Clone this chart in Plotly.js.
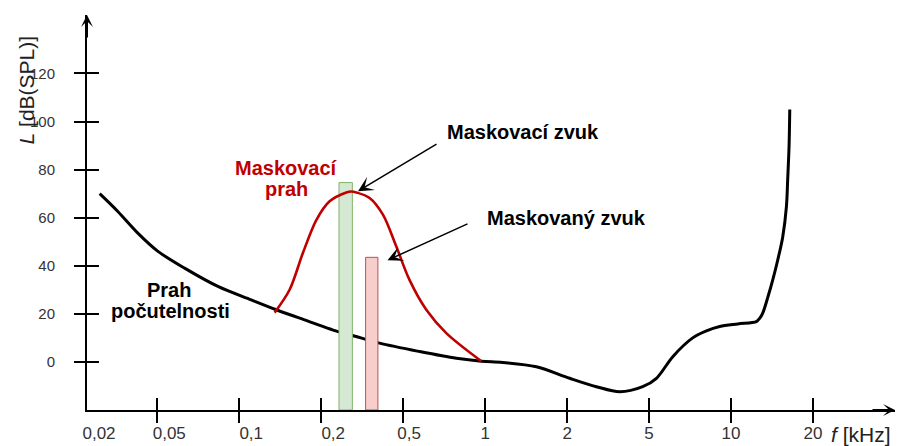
<!DOCTYPE html>
<html>
<head>
<meta charset="utf-8">
<script src="https://cdn.plot.ly/plotly-3.0.1.min.js"></script>
<style>html,body{margin:0;padding:0;background:#fff;}#chart{width:900px;height:446px;}</style>
</head>
<body>
<div id="chart"></div>
<script>
// ---- data ----
const tickFreq = [0.02, 0.05, 0.1, 0.2, 0.5, 1, 2, 5, 10, 20];
const tickText = ['0,02', '0,05', '0,1', '0,2', '0,5', '1', '2', '5', '10', '20'];
const levelTicks = [0, 20, 40, 60, 80, 100, 120];

// threshold of hearing (Prah počutelnosti), f in kHz, L in dB(SPL)
const thresholdFreq = [0.0236, 0.0299, 0.0388, 0.0503, 0.063, 0.0835, 0.1107, 0.1368, 0.1737, 0.2457, 0.284, 0.384, 0.5747, 0.784, 0.969, 1.16, 1.542, 2.057, 2.774, 3.60, 4.655, 5.32, 6.11, 7.23, 8.12, 9.09, 10.58, 12.39, 12.75, 13.07, 13.67, 14.22, 14.84, 15.48, 15.97, 16.14, 16.33, 16.43];
const thresholdLevel = [70, 62.6, 53.6, 46, 39, 31.4, 25.8, 21.7, 17.5, 12.4, 11, 7.8, 4.3, 1.5, 0.3, -0.2, -2, -6.8, -10.3, -12.4, -10.3, -6.8, 2.2, 10, 12.9, 14.7, 15.8, 16.8, 18.2, 20.3, 27.2, 34, 42.4, 52, 64.6, 75.7, 89.6, 105];

// masking threshold (Maskovací prah)
const maskFreq = [0.1349, 0.1531, 0.1713, 0.1919, 0.2197, 0.2648, 0.28, 0.2961, 0.3436, 0.3988, 0.4631, 0.528, 0.608, 0.720, 0.969];
const maskLevel = [20.5, 30, 45.3, 59, 66.8, 70.5, 70.9, 70.5, 68.2, 61.25, 48, 34, 21.7, 12, 0.3];

// tones: masking sound (green), masked sound (red)
const toneNames = ['Maskovací zvuk', 'Maskovaný zvuk'];
const toneFreq = [0.263, 0.352];
const toneLevel = [74.6, 43.5];
const levelFloor = -20;

// ---- frequency scale: evenly spaced tick marks (0,02 sits on the L axis) ----
const tickPos = [0.143, 1, 2, 3, 4, 5, 6, 7, 8, 9];
function toPos(f) {
  let i = 0;
  while (i < tickFreq.length - 2 && f > tickFreq[i + 1]) i++;
  const t = Math.log(f / tickFreq[i]) / Math.log(tickFreq[i + 1] / tickFreq[i]);
  return tickPos[i] + (tickPos[i + 1] - tickPos[i]) * t;
}
const xRange = [0.143, 10.0];
const yRange = [-20, 144.3];
const pxPerUnit = 808 / (xRange[1] - xRange[0]);
const labelShift = [12, 12, 12, 12, 6, 0, 0, 0, 0, 0];
const labelPos = tickPos.map((p, i) => p + labelShift[i] / pxPerUnit);

const FONT = 'Liberation Sans, Arial, sans-serif';
const RED = '#c00000';

const traces = [
  {
    type: 'scatter', mode: 'lines', name: 'Prah počutelnosti',
    x: thresholdFreq.map(toPos), y: thresholdLevel,
    line: {color: '#000', width: 3, shape: 'spline', smoothing: 0.9},
    xaxis: 'x', yaxis: 'y', hoverinfo: 'skip'
  },
  {
    type: 'bar', name: 'tóny',
    x: toneFreq.map(toPos), y: toneLevel.map(v => v - levelFloor), base: levelFloor,
    width: [0.163, 0.15],
    marker: {color: ['#d5e8d4', '#f8cecc'], line: {color: ['#82b366', '#b85450'], width: 1}},
    xaxis: 'x2', yaxis: 'y2', hoverinfo: 'skip'
  },
  {
    type: 'scatter', mode: 'lines', name: 'Maskovací prah',
    x: maskFreq.map(toPos), y: maskLevel,
    line: {color: RED, width: 2.6, shape: 'spline', smoothing: 0.9},
    xaxis: 'x3', yaxis: 'y2', hoverinfo: 'skip'
  }
];

const noGrid = {showgrid: false, zeroline: false, fixedrange: true};
const layout = {
  width: 900, height: 446,
  margin: {l: 87, r: 5, t: 15, b: 36},
  paper_bgcolor: '#fff', plot_bgcolor: '#fff',
  showlegend: false, bargap: 0,
  font: {family: FONT, color: '#333'},
  xaxis: Object.assign({}, noGrid, {
    range: xRange, showline: true, linewidth: 2, linecolor: '#000',
    ticks: 'outside', ticklen: 11, tickwidth: 2, tickcolor: '#000',
    tickmode: 'array', tickvals: tickPos.slice(1), showticklabels: false
  }),
  xaxis2: Object.assign({}, noGrid, {
    range: xRange, overlaying: 'x', anchor: 'y2', showline: false,
    ticks: 'inside', ticklen: 12, tickwidth: 2, tickcolor: '#000',
    tickmode: 'array', tickvals: tickPos.slice(1), showticklabels: false
  }),
  xaxis3: Object.assign({}, noGrid, {
    range: xRange, overlaying: 'x', anchor: 'y2', showline: false, ticks: '',
    tickmode: 'array', tickvals: labelPos, ticktext: tickText,
    tickfont: {family: FONT, size: 17, color: '#333'}, ticklabelstandoff: 11
  }),
  yaxis: Object.assign({}, noGrid, {
    range: yRange, showline: true, linewidth: 2, linecolor: '#000',
    ticks: 'outside', ticklen: 11, tickwidth: 2, tickcolor: '#000',
    tickmode: 'array', tickvals: levelTicks,
    tickfont: {family: FONT, size: 15, color: '#333'}, ticklabelstandoff: 16
  }),
  yaxis2: Object.assign({}, noGrid, {
    range: yRange, overlaying: 'y', anchor: 'x', side: 'left', showline: false,
    ticks: 'inside', ticklen: 12, tickwidth: 2, tickcolor: '#000',
    tickmode: 'array', tickvals: levelTicks, showticklabels: false
  }),
  annotations: [
    // axis arrows
    {xref: 'paper', yref: 'paper', x: 0, y: 1, ax: 0, ay: 24, text: '', showarrow: true,
     arrowhead: 3, arrowsize: 1, arrowwidth: 2, arrowcolor: '#000', standoff: 0},
    {xref: 'paper', yref: 'paper', x: 1, y: 0, ax: -24, ay: 0, text: '', showarrow: true,
     arrowhead: 3, arrowsize: 1, arrowwidth: 2, arrowcolor: '#000', standoff: 0},
    // axis titles
    {xref: 'paper', yref: 'paper', x: -0.075, y: 0.81, text: '<i>L</i> [dB(SPL)]', textangle: -90,
     showarrow: false, font: {family: FONT, size: 21, color: '#222'}, xanchor: 'center', yanchor: 'middle'},
    {xref: 'paper', yref: 'paper', x: 0.958, y: -0.063, text: '<i>f</i> [kHz]',
     showarrow: false, font: {family: FONT, size: 21, color: '#222'}, xanchor: 'center', yanchor: 'middle'},
    // labels
    {x: 2.571, y: 80.6, text: '<b>Maskovací</b>', showarrow: false, font: {family: FONT, size: 20, color: RED}},
    {x: 2.577, y: 71.8, text: '<b>prah</b>', showarrow: false, font: {family: FONT, size: 20, color: RED}},
    {x: 1.149, y: 29.8, text: '<b>Prah</b>', showarrow: false, font: {family: FONT, size: 20, color: '#000'}},
    {x: 1.156, y: 21.1, text: '<b>počutelnosti</b>', showarrow: false, font: {family: FONT, size: 20, color: '#000'}},
    {x: 5.462, y: 95.5, text: '<b>' + toneNames[0] + '</b>', showarrow: false, font: {family: FONT, size: 20, color: '#000'}},
    {x: 5.987, y: 59.8, text: '<b>' + toneNames[1] + '</b>', showarrow: false, font: {family: FONT, size: 20, color: '#000'}},
    // pointer arrows
    {x: 3.449, y: 71.0, ax: 80, ay: -48, text: '', showarrow: true,
     arrowhead: 3, arrowsize: 1.7, arrowwidth: 1.5, arrowcolor: '#000', standoff: 0},
    {x: 3.809, y: 42.3, ax: 81.5, ay: -37, text: '', showarrow: true,
     arrowhead: 3, arrowsize: 1.7, arrowwidth: 1.5, arrowcolor: '#000', standoff: 0}
  ]
};

Plotly.newPlot('chart', traces, layout, {staticPlot: true, displayModeBar: false});
</script>
</body>
</html>
